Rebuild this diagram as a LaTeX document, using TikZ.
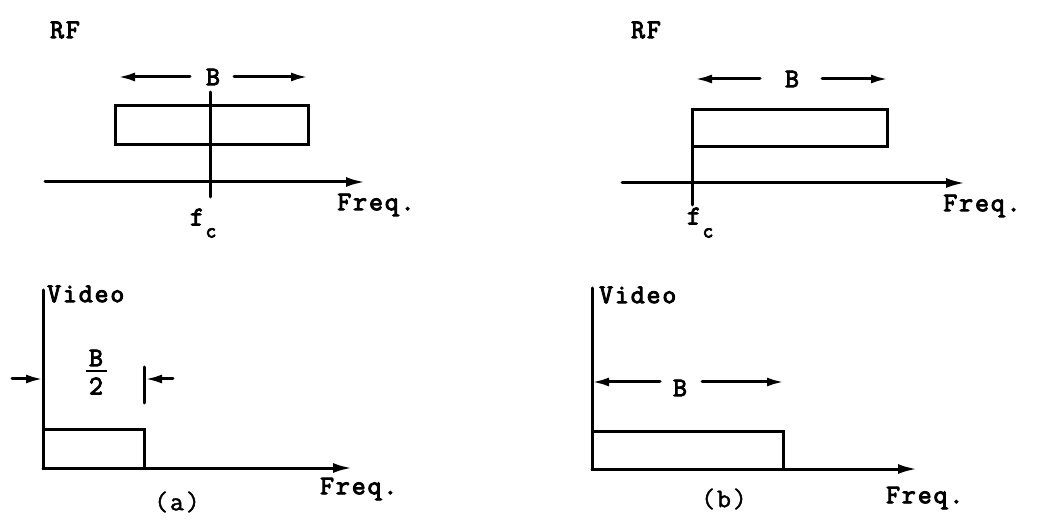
\documentclass[tikz,border=0pt]{standalone}
\usepackage{fontspec}
\newfontfamily\twbold[LetterSpace=7,FakeBold=3.5]{Latin Modern Mono}
\newfontfamily\twplain[LetterSpace=7,FakeBold=1.5]{Latin Modern Mono}
\usetikzlibrary{arrows.meta}
\tikzset{
  lbl/.style={font=\fontsize{27}{30}\selectfont\twbold, inner sep=0pt},
  plain/.style={font=\fontsize{27}{30}\selectfont\twplain, inner sep=0pt},
  sub/.style={font=\fontsize{21}{23}\selectfont\twbold, inner sep=0pt},
  ln/.style={line width=3pt, line cap=round},
  axisarr/.style={ln, -{Latex[length=19pt,width=10pt]}},
  dimarr/.style={ln, -{Latex[length=17pt,width=9pt]}}
}
\begin{document}
\begin{tikzpicture}[x=1pt,y=-1pt]
\useasboundingbox (0,0) rectangle (1045,529);
% ---------- top left: RF ----------
\node[lbl] (rf1) at (65,30) {RF};
\node[lbl] (b1) at (213,77) {B};
\coordinate (b1l) at (190,77); \coordinate (b1lt) at (118,77);
\coordinate (b1r) at (234,77); \coordinate (b1rt) at (308,77);
\draw[dimarr] (b1l) -- (b1lt);
\draw[dimarr] (b1r) -- (b1rt);
\coordinate (r1a) at (115,106); \coordinate (r1b) at (308,145);
\draw[ln] (r1a) rectangle (r1b);
\coordinate (ax1s) at (45,182); \coordinate (ax1e) at (365,182);
\draw[axisarr] (ax1s) -- (ax1e);
\coordinate (fc1t) at (210,92); \coordinate (fc1b) at (210,197);
\draw[ln] (fc1t) -- (fc1b);
\node[lbl] (fq1) at (376,205) {Freq.};
\node[lbl] (f1) at (197,217) {f};
\node[sub] (c1) at (211,233) {c};
% ---------- top right: RF ----------
\node[lbl] (rf2) at (646,30) {RF};
\node[lbl] (b2) at (792,79) {B};
\coordinate (b2l) at (760,79); \coordinate (b2lt) at (695,79);
\coordinate (b2r) at (822,79); \coordinate (b2rt) at (888,79);
\draw[dimarr] (b2l) -- (b2lt);
\draw[dimarr] (b2r) -- (b2rt);
\coordinate (r2a) at (692,110); \coordinate (r2b) at (887,147);
\draw[ln] (r2a) rectangle (r2b);
\coordinate (ax2s) at (622,183); \coordinate (ax2e) at (965,183);
\draw[axisarr] (ax2s) -- (ax2e);
\coordinate (fc2t) at (692,110); \coordinate (fc2b) at (692,205);
\draw[ln] (fc2t) -- (fc2b);
\node[lbl] (fq2) at (982,206) {Freq.};
\node[lbl] (f2) at (694,216) {f};
\node[sub] (c2) at (708,233) {c};
% ---------- bottom left: Video (a) ----------
\coordinate (v1t) at (43,290); \coordinate (o1) at (43,468);
\draw[ln] (v1t) -- (o1);
\node[lbl, anchor=west] (vid1) at (47,294) {Video};
\node[lbl] (bh) at (96,358) {B};
\node[lbl] (two) at (96,386) {2};
\coordinate (barl) at (86,371); \coordinate (barr) at (107,371);
\draw[line width=2.4pt] (barl) -- (barr);
\coordinate (la1) at (12,379); \coordinate (la1t) at (43,379);
\draw[dimarr] (la1) -- (la1t);
\coordinate (tk1) at (144,367); \coordinate (tk2) at (144,403);
\draw[ln] (tk1) -- (tk2);
\coordinate (ra1) at (173,379); \coordinate (ra1t) at (145,379);
\draw[dimarr] (ra1) -- (ra1t);
\coordinate (r3b) at (144,430);
\draw[ln] (o1) rectangle (r3b);
\coordinate (ax3e) at (352,468);
\draw[axisarr] (o1) -- (ax3e);
\node[lbl, anchor=west] (fq3) at (320,489) {Freq.};
\node[plain] (lab1) at (177,502) {(a)};
% ---------- bottom right: Video (b) ----------
\coordinate (v2t) at (592,288); \coordinate (o2) at (592,469);
\draw[ln] (v2t) -- (o2);
\node[lbl, anchor=west] (vid2) at (599,295) {Video};
\node[lbl] (b4) at (680,388) {B};
\coordinate (b4l) at (660,382); \coordinate (b4lt) at (592,382);
\coordinate (b4r) at (702,382); \coordinate (b4rt) at (784,382);
\draw[dimarr] (b4l) -- (b4lt);
\draw[dimarr] (b4r) -- (b4rt);
\coordinate (r4b) at (783,432);
\draw[ln] (o2) rectangle (r4b);
\coordinate (ax4e) at (917,469);
\draw[axisarr] (o2) -- (ax4e);
\node[lbl, anchor=west] (fq4) at (886,498) {Freq.};
\node[plain] (lab2) at (724,499) {(b)};
\end{tikzpicture}
\end{document}
